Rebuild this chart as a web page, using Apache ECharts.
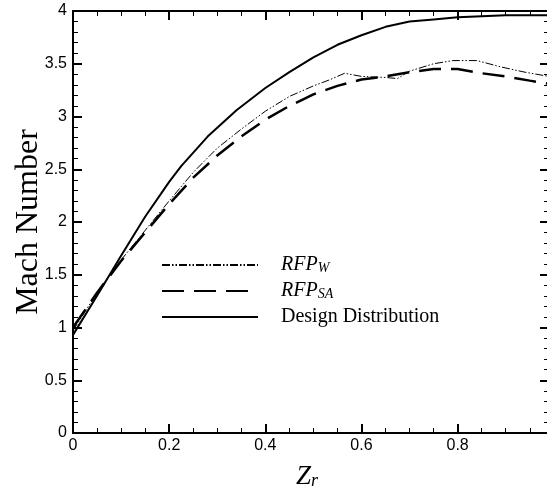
<!DOCTYPE html>
<html>
<head>
<meta charset="utf-8">
<script src="https://cdn.jsdelivr.net/npm/echarts@6/dist/echarts.min.js"></script>
<style>
  html, body { margin: 0; padding: 0; background: #fff; }
  #chart { width: 547px; height: 495px; }
</style>
</head>
<body>
<div id="chart"></div>
<script>
// Z_r positions and Mach numbers
const zrW = [0, 0.05, 0.1, 0.15, 0.2, 0.25, 0.3, 0.35, 0.4, 0.45, 0.5, 0.535, 0.565, 0.6, 0.65, 0.675, 0.7, 0.75, 0.79, 0.84, 0.89, 0.94, 0.99];
const machW = [0.97, 1.33, 1.64, 1.92, 2.2, 2.47, 2.7, 2.88, 3.05, 3.19, 3.29, 3.35, 3.41, 3.38, 3.37, 3.36, 3.43, 3.5, 3.53, 3.53, 3.47, 3.42, 3.38];

const zrSA = [0, 0.05, 0.1, 0.15, 0.2, 0.25, 0.3, 0.35, 0.4, 0.45, 0.5, 0.55, 0.6, 0.65, 0.7, 0.75, 0.8, 0.85, 0.9, 0.95, 0.99];
const machSA = [1.0, 1.33, 1.63, 1.9, 2.17, 2.42, 2.63, 2.81, 2.97, 3.1, 3.21, 3.29, 3.35, 3.38, 3.42, 3.45, 3.45, 3.41, 3.38, 3.34, 3.31];

const zrDesign = [0, 0.05, 0.1, 0.15, 0.2, 0.225, 0.28, 0.34, 0.4, 0.45, 0.5, 0.55, 0.6, 0.65, 0.7, 0.75, 0.8, 0.85, 0.9, 0.99];
const machDesign = [0.93, 1.3, 1.68, 2.05, 2.38, 2.53, 2.81, 3.06, 3.27, 3.42, 3.56, 3.68, 3.77, 3.85, 3.9, 3.92, 3.94, 3.95, 3.96, 3.96];

const pairs = (xs, ys) => xs.map((x, i) => [x, ys[i]]);

const SANS = "'Liberation Sans', Arial, sans-serif";
const SERIF = "'Liberation Serif', 'Times New Roman', serif";
const BLACK = '#000';
const CLEAR = 'rgba(0,0,0,0)';

const X_MAX = 0.99;

// box-style frame: every side gets inward ticks, only left/bottom get visible labels
function frameAxis(position, isX, labelled) {
  return {
    type: 'value',
    position: position,
    min: 0,
    max: isX ? X_MAX : 4,
    interval: isX ? 0.2 : 0.5,
    splitLine: { show: false },
    axisLine: { show: true, onZero: false, lineStyle: { color: BLACK, width: 2 } },
    axisTick: { show: true, inside: true, length: 9, lineStyle: { color: BLACK, width: 2 } },
    minorTick: { show: true, splitNumber: isX ? 4 : 5, length: 5, lineStyle: { color: BLACK, width: 1 } },
    axisLabel: {
      show: true,
      color: labelled ? BLACK : CLEAR,
      fontFamily: SANS,
      fontSize: 16,
      margin: isX ? 5 : 6,
      // the extent end (0.99) gets a tick too; leave its label blank
      formatter: v => (isX && v > 0.9 ? '' : String(v))
    }
  };
}

const bottomAxis = frameAxis('bottom', true, true);
bottomAxis.name = '{z|Z}{r|r}';
bottomAxis.nameLocation = 'middle';
bottomAxis.nameGap = 27;
bottomAxis.nameTextStyle = {
  padding: [0, 8, 0, 0],
  rich: {
    z: { fontFamily: SERIF, fontStyle: 'italic', fontSize: 27, lineHeight: 30, verticalAlign: 'bottom', color: BLACK },
    r: { fontFamily: SERIF, fontStyle: 'italic', fontSize: 18, lineHeight: 20, verticalAlign: 'bottom', color: BLACK }
  }
};

const leftAxis = frameAxis('left', false, true);
leftAxis.name = 'Mach Number';
leftAxis.nameLocation = 'middle';
leftAxis.nameGap = 28;
leftAxis.nameMoveOverlap = false;
leftAxis.nameTextStyle = { fontFamily: SERIF, fontSize: 32, color: BLACK };

const legendRich = {
  g: { width: 18 },
  i: { fontFamily: SERIF, fontStyle: 'italic', fontSize: 20, lineHeight: 20, verticalAlign: 'bottom', color: BLACK },
  s: { fontFamily: SERIF, fontStyle: 'italic', fontSize: 14, lineHeight: 12, verticalAlign: 'bottom', color: BLACK },
  n: { fontFamily: SERIF, fontSize: 20, lineHeight: 20, color: BLACK }
};

const chart = echarts.init(document.getElementById('chart'), null, { renderer: 'canvas' });
chart.setOption({
  animation: false,
  grid: { left: 73, top: 11, right: -2, bottom: 62, outerBoundsMode: 'none' },
  legend: {
    orient: 'vertical',
    left: 156,
    top: 250,
    itemWidth: 96,
    itemHeight: 14,
    itemGap: 6,
    itemStyle: { opacity: 0 },
    data: ['RFP_W', 'RFP_SA', 'Design Distribution'],
    formatter: name => {
      if (name === 'RFP_W') return '{g|}{i|RFP}{s|W}';
      if (name === 'RFP_SA') return '{g|}{i|RFP}{s|SA}';
      return '{g|}{n|' + name + '}';
    },
    textStyle: { rich: legendRich }
  },
  xAxis: [bottomAxis, frameAxis('top', true, false)],
  yAxis: [leftAxis, frameAxis('right', false, false)],
  series: [
    {
      name: 'RFP_W',
      type: 'line',
      showSymbol: false,
      symbol: 'none',
      data: pairs(zrW, machW),
      lineStyle: { color: BLACK, width: 1, type: [8, 2, 1.5, 2, 1.5, 2] },
      itemStyle: { color: BLACK }
    },
    {
      name: 'RFP_SA',
      type: 'line',
      showSymbol: false,
      symbol: 'none',
      data: pairs(zrSA, machSA),
      lineStyle: { color: BLACK, width: 2.5, type: [22, 10] },
      itemStyle: { color: BLACK }
    },
    {
      name: 'Design Distribution',
      type: 'line',
      showSymbol: false,
      symbol: 'none',
      data: pairs(zrDesign, machDesign),
      lineStyle: { color: BLACK, width: 2 },
      itemStyle: { color: BLACK }
    }
  ]
});
</script>
</body>
</html>
